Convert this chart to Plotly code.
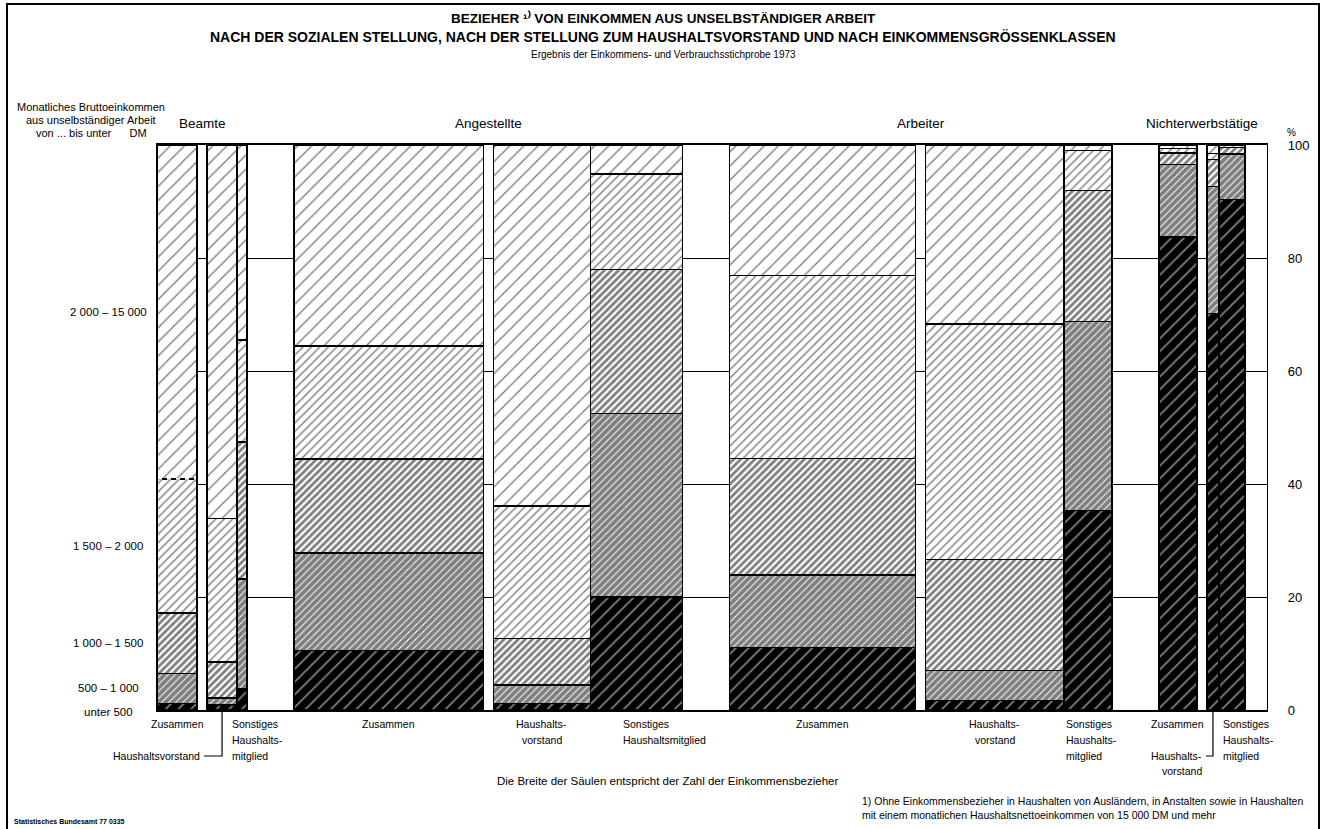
import plotly.graph_objects as go

# ---------------- Daten ----------------
gruppen = ["Beamte", "Angestellte", "Arbeiter", "Nichterwerbstätige"]
teile = ["Zusammen", "Haushaltsvorstand", "Sonstiges Haushaltsmitglied"]

# Säulenbreite ~ Zahl der Einkommensbezieher (relative Einheiten)
breite_beamte = [40, 30, 10]
breite_angestellte = [189, 97, 92]
breite_arbeiter = [186, 138, 48]
breite_nichterwerbstaetige = [38, 12, 26]

klassen = ["unter 500", "500 – 1 000", "1 000 – 1 500", "1 500 – 2 000", "2 000 – 15 000"]

# Anteile in % (Reihenfolge: Beamte Z/HV/SH, Angestellte Z/HV/SH, Arbeiter Z/HV/SH, Nichterwerbst. Z/HV/SH)
anteil_unter_500 = [1.2, 0.9, 3.8, 10.5, 1.2, 20.0, 11.1, 1.7, 35.3, 83.7, 70.2, 90.4]
anteil_500_1000 = [5.3, 1.2, 19.4, 17.3, 3.2, 32.5, 12.8, 5.3, 33.5, 12.9, 22.5, 8.0]
anteil_1000_1500 = [10.7, 6.4, 24.2, 16.6, 8.3, 25.5, 20.6, 19.6, 23.1, 2.0, 4.7, 1.2]
anteil_1500_2000 = [23.7, 25.4, 18.1, 20.0, 23.4, 16.9, 32.4, 41.7, 7.1, 0.8, 1.1, 0.3]
anteil_2000_15000 = [59.1, 66.1, 34.5, 35.6, 63.9, 5.1, 23.1, 31.7, 1.0, 0.6, 1.5, 0.1]

y_ticks = [0, 20, 40, 60, 80, 100]

# ---------------- Layout-Konstanten ----------------
W, H = 1326, 829
ML, MR, MT, MB = 157, 59, 145, 119
PW, PH = W - ML - MR, H - MT - MB
GAP_INNER, GAP_GROUP, GAP_END = 10, 47, 22
FONT = "Liberation Sans, Arial, sans-serif"


def py(p):  # pixel y -> paper y
    return (H - MB - p) / PH


def px(p):  # pixel x -> paper x
    return (p - ML) / PW


breiten = [breite_beamte, breite_angestellte, breite_arbeiter, breite_nichterwerbstaetige]
x_left, widths, group_span = [], [], []
pos = 0.0
for gi, (z, hv, sh) in enumerate(breiten):
    start = pos
    x_left.append(pos); widths.append(z); pos += z + GAP_INNER
    x_left.append(pos); widths.append(hv); pos += hv
    x_left.append(pos); widths.append(sh); pos += sh
    group_span.append((start, pos))
    pos += GAP_GROUP if gi < len(breiten) - 1 else GAP_END
total = pos
centers = [l + w / 2 for l, w in zip(x_left, widths)]

series = [anteil_unter_500, anteil_500_1000, anteil_1000_1500, anteil_1500_2000, anteil_2000_15000]
patterns = [
    dict(shape="/", bgcolor="black", fgcolor="white", size=9, solidity=0.2),
    dict(shape="/", bgcolor="white", fgcolor="black", size=5, solidity=0.8),
    dict(shape="/", bgcolor="white", fgcolor="black", size=5, solidity=0.55),
    dict(shape="/", bgcolor="white", fgcolor="black", size=6, solidity=0.24),
    dict(shape="/", bgcolor="white", fgcolor="black", size=10, solidity=0.14),
]

fig = go.Figure()
for name, vals, pat in zip(klassen, series, patterns):
    fig.add_trace(go.Bar(
        x=centers, y=vals, width=widths, name=name,
        marker=dict(color="white", line=dict(color="black", width=1.4), pattern=pat),
        hovertemplate=name + ": %{y}%<extra></extra>",
    ))

ann = []
txt = dict(color="black", family=FONT)

# Titel
title_lines = [
    ("<b>BEZIEHER ¹⁾ VON EINKOMMEN AUS UNSELBSTÄNDIGER ARBEIT</b>", 18, 13.5),
    ("<b>NACH DER SOZIALEN STELLUNG, NACH DER STELLUNG ZUM HAUSHALTSVORSTAND UND NACH EINKOMMENSGRÖSSENKLASSEN</b>", 37, 14),
    ("Ergebnis der Einkommens- und Verbrauchsstichprobe 1973", 55, 10),
]
for t, yy, fs in title_lines:
    ann.append(dict(xref="paper", yref="paper", x=px(663), y=py(yy), text=t,
                    showarrow=False, xanchor="center", yanchor="middle",
                    font=dict(size=fs, **txt)))

# Kopf links
for t, yy in [("Monatliches Bruttoeinkommen", 107), ("aus unselbständiger Arbeit", 120),
              ("von ... bis unter      DM", 133)]:
    ann.append(dict(xref="paper", yref="paper", x=px(91), y=py(yy), text=t, showarrow=False,
                    xanchor="center", yanchor="middle", font=dict(size=11, **txt)))

# Gruppenüberschriften
for g, (a, b) in zip(gruppen, group_span):
    ann.append(dict(xref="x", yref="paper", x=(a + b) / 2, y=py(123), text=g, showarrow=False,
                    xanchor="center", yanchor="middle", font=dict(size=13.5, **txt)))

# Einkommensklassen links (an Beamte-Zusammen-Säule ausgerichtet)
cum = 0.0
for i, (k, s) in enumerate(zip(klassen, series)):
    v = s[0]
    mid = cum + v / 2
    cum += v
    ann.append(dict(xref="paper", yref="y", x=px(108), y=mid, text=k, showarrow=False,
                    xanchor="center", yanchor="middle", yshift=-5 if i == 0 else 0,
                    font=dict(size=11.5, **txt)))

# Prozentzeichen rechts oben
ann.append(dict(xref="paper", yref="paper", x=px(1285), y=py(132), text="%", showarrow=False,
                xanchor="left", yanchor="middle", font=dict(size=10, **txt)))

# Beschriftungen unter den Säulen
row = [724, 740, 756, 771]


def lab(xv, yy, t, anchor="center"):
    ann.append(dict(xref="x", yref="paper", x=xv, y=py(yy), text=t, showarrow=False,
                    xanchor=anchor, yanchor="middle", font=dict(size=10.5, **txt)))


# Beamte
lab(centers[0], row[0], "Zusammen")
lab(centers[1] - 20, row[2], "Haushaltsvorstand", "right")
for j, t in enumerate(["Sonstiges", "Haushalts-", "mitglied"]):
    lab(x_left[2] - 7, row[j], t, "left")
# Angestellte
lab(centers[3], row[0], "Zusammen")
lab(centers[4], row[0], "Haushalts-"); lab(centers[4], row[1], "vorstand")
lab(x_left[5] + 31, row[0], "Sonstiges", "left"); lab(x_left[5] + 31, row[1], "Haushaltsmitglied", "left")
# Arbeiter
lab(centers[6], row[0], "Zusammen")
lab(centers[7], row[0], "Haushalts-"); lab(centers[7], row[1], "vorstand")
for j, t in enumerate(["Sonstiges", "Haushalts-", "mitglied"]):
    lab(x_left[8], row[j], t, "left")
# Nichterwerbstätige
lab(centers[9], row[0], "Zusammen")
lab(centers[10] - 9, row[2], "Haushalts-", "right"); lab(centers[10] - 9, row[3], "vorstand", "right")
for j, t in enumerate(["Sonstiges", "Haushalts-", "mitglied"]):
    lab(x_left[11] + 2, row[j], t, "left")

# Hinweis und Fußnote
ann.append(dict(xref="paper", yref="paper", x=px(668), y=py(781),
                text="Die Breite der Säulen entspricht der Zahl der Einkommensbezieher",
                showarrow=False, xanchor="center", yanchor="middle", font=dict(size=11.5, **txt)))
ann.append(dict(xref="paper", yref="paper", x=px(860), y=py(808),
                text="1) Ohne Einkommensbezieher in Haushalten von Ausländern, in Anstalten sowie in Haushalten<br>"
                     "mit einem monatlichen Haushaltsnettoeinkommen von 15 000 DM und mehr",
                showarrow=False, xanchor="left", yanchor="middle", align="left",
                font=dict(size=10.5, **txt)))
ann.append(dict(xref="paper", yref="paper", x=px(12), y=py(821),
                text="<b>Statistisches Bundesamt 77 0335</b>", showarrow=False,
                xanchor="left", yanchor="middle", font=dict(size=7, **txt)))

shapes = []
# gestrichelte Grenze (Beamte, Zusammen: 1 500–2 000 / 2 000–15 000)
grenze = sum(s[0] for s in series[:4])
shapes.append(dict(type="line", xref="x", yref="y", x0=x_left[0] + 1, x1=x_left[0] + widths[0] - 1,
                   y0=grenze, y1=grenze, line=dict(color="white", width=1.6, dash="4px,5px")))
# Verbindungslinien für "Haushaltsvorstand"
for idx, dx in [(1, 20), (10, 9)]:
    shapes.append(dict(type="path", xref="x", yref="paper",
                       path=f"M {centers[idx]} {py(711)} L {centers[idx]} {py(row[2])} L {centers[idx] - dx + 2} {py(row[2])}",
                       line=dict(color="black", width=1.2)))
# Rahmen
shapes.append(dict(type="rect", xref="paper", yref="paper", x0=px(7), x1=px(1319), y0=py(845), y1=py(4),
                   line=dict(color="black", width=2), fillcolor="rgba(0,0,0,0)", layer="above"))

fig.update_layout(
    width=W, height=H, barmode="stack", showlegend=False,
    paper_bgcolor="white", plot_bgcolor="white",
    margin=dict(l=ML, r=MR, t=MT, b=MB, pad=0),
    annotations=ann, shapes=shapes,
    font=dict(family=FONT, color="black"),
    xaxis=dict(range=[0, total], showticklabels=False, showgrid=False, zeroline=False,
               showline=True, mirror=True, linecolor="black", linewidth=1.5, fixedrange=True),
    yaxis=dict(range=[0, 100], side="right", tickvals=y_ticks, ticks="", ticklabelstandoff=17,
               showgrid=True, gridcolor="black", gridwidth=1, zeroline=False,
               showline=True, mirror=True, linecolor="black", linewidth=1.2,
               tickfont=dict(size=13, family=FONT), fixedrange=True),
)

fig.write_html("out.html", config={"displayModeBar": False},
               post_script="document.body.style.margin='0px';")
